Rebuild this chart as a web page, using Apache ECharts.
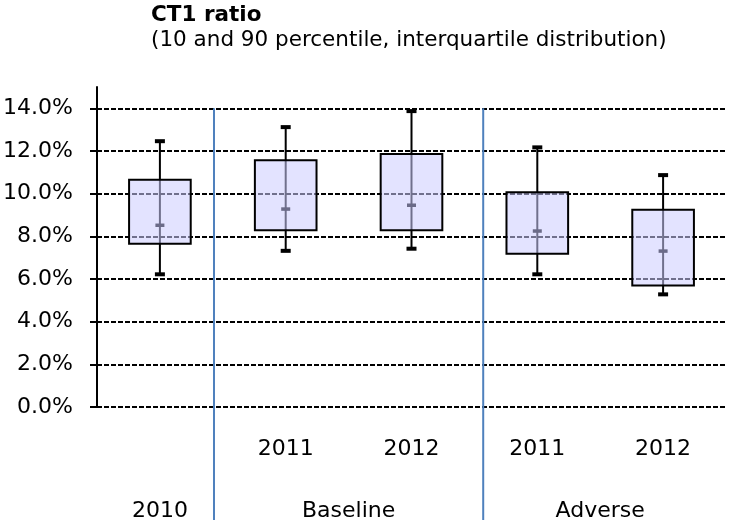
<!DOCTYPE html>
<html>
<head>
<meta charset="utf-8">
<script src="https://cdn.jsdelivr.net/npm/echarts@6/dist/echarts.min.js"></script>
<style>
  html, body { margin: 0; padding: 0; background: #fff; }
  #main { width: 729px; height: 523px; }
</style>
</head>
<body>
<div id="main"></div>
<script>
// categories (bottom row = group, top row = year)
const years = ['', '2011', '2012', '2011', '2012']
const groupLabels = { 0: '2010', 1.5: 'Baseline', 3.5: 'Adverse' }
const separatorPos = [0.43, 2.57]   // blue dividers, in category units

// percentiles, in %
const p10 = [6.22, 7.32, 7.42, 6.22, 5.28]
const q1  = [7.65, 8.29, 8.29, 7.18, 5.70]
const med = [8.53, 9.29, 9.47, 8.26, 7.32]
const q3  = [10.65, 11.57, 11.86, 10.07, 9.25]
const p90 = [12.46, 13.12, 13.87, 12.17, 10.87]

const yTicks = [0, 2, 4, 6, 8, 10, 12, 14]

const font = 'DejaVu Sans'
const fs = 22
const boxData = years.map((y, i) => [i, p10[i], q1[i], med[i], q3[i], p90[i]])

let chart = echarts.init(document.getElementById('main'))
chart.setOption({
  animation: false,
  title: {
    text: 'CT1 ratio',
    subtext: '(10 and 90 percentile, interquartile distribution)',
    left: 146,
    top: -1,
    itemGap: 3,
    textStyle: { fontFamily: font, fontSize: 21.5, fontWeight: 'bold', color: '#000' },
    subtextStyle: { fontFamily: font, fontSize: 21.5, color: '#000' }
  },
  grid: { left: 97, right: 2, top: 87, bottom: 116 },
  xAxis: [
    {
      type: 'category',
      data: years,
      axisLine: { show: false },
      axisTick: { show: false },
      axisLabel: { fontFamily: font, fontSize: fs, color: '#000', margin: 31, interval: 0 }
    },
    {
      type: 'value',
      min: -0.5,
      max: 4.5,
      interval: 0.5,
      position: 'bottom',
      axisLine: { show: false },
      axisTick: { show: false },
      splitLine: { show: false },
      axisLabel: {
        fontFamily: font, fontSize: fs, color: '#000', margin: 93,
        formatter: v => groupLabels[v] || ''
      }
    }
  ],
  yAxis: {
    type: 'value',
    min: 0,
    max: 15,
    interval: 2,
    axisLine: { show: true, onZero: false, lineStyle: { color: '#000', width: 2 } },
    axisTick: { show: true, length: 7, lineStyle: { color: '#000', width: 2 } },
    axisLabel: {
      fontFamily: font, fontSize: fs, color: '#000', margin: 24,
      showMaxLabel: false,
      formatter: v => yTicks.indexOf(v) >= 0 ? v.toFixed(1) + '%' : ''
    },
    splitLine: {
      show: true,
      showMaxLine: false,
      lineStyle: { color: '#000', width: 2, type: [5, 2] }
    }
  },
  series: [
    {
      type: 'custom',
      xAxisIndex: 0,
      clip: false,
      data: boxData,
      renderItem: function (params, api) {
        const i = api.value(0)
        const x = api.coord([i, 0])[0]
        const bw = api.size([1, 0])[0] * 0.49
        const yLo = api.coord([i, api.value(1)])[1]
        const yQ1 = api.coord([i, api.value(2)])[1]
        const yMed = api.coord([i, api.value(3)])[1]
        const yQ3 = api.coord([i, api.value(4)])[1]
        const yHi = api.coord([i, api.value(5)])[1]
        return {
          type: 'group',
          children: [
            { type: 'line', shape: { x1: x, y1: yHi, x2: x, y2: yLo },
              style: { stroke: '#000', lineWidth: 2 } },
            { type: 'rect', shape: { x: x - bw / 2, y: yQ3, width: bw, height: yQ1 - yQ3 },
              style: { fill: 'rgba(204,204,255,0.55)', stroke: '#000', lineWidth: 2 } },
            { type: 'rect', shape: { x: x - 4.5, y: yMed - 1.5, width: 9, height: 3.5 },
              style: { fill: '#6b6b88' } },
            { type: 'rect', shape: { x: x - 5, y: yHi - 2, width: 10, height: 4 },
              style: { fill: '#000' } },
            { type: 'rect', shape: { x: x - 5, y: yLo - 2, width: 10, height: 4 },
              style: { fill: '#000' } }
          ]
        }
      }
    },
    {
      type: 'custom',
      xAxisIndex: 1,
      clip: false,
      data: separatorPos.map(p => [p]),
      renderItem: function (params, api) {
        const pt = api.coord([api.value(0), 14])
        return {
          type: 'line',
          shape: { x1: pt[0], y1: pt[1], x2: pt[0], y2: api.getHeight() - 3 },
          style: { stroke: '#4f81bd', lineWidth: 2 }
        }
      }
    }
  ]
})
</script>
</body>
</html>
